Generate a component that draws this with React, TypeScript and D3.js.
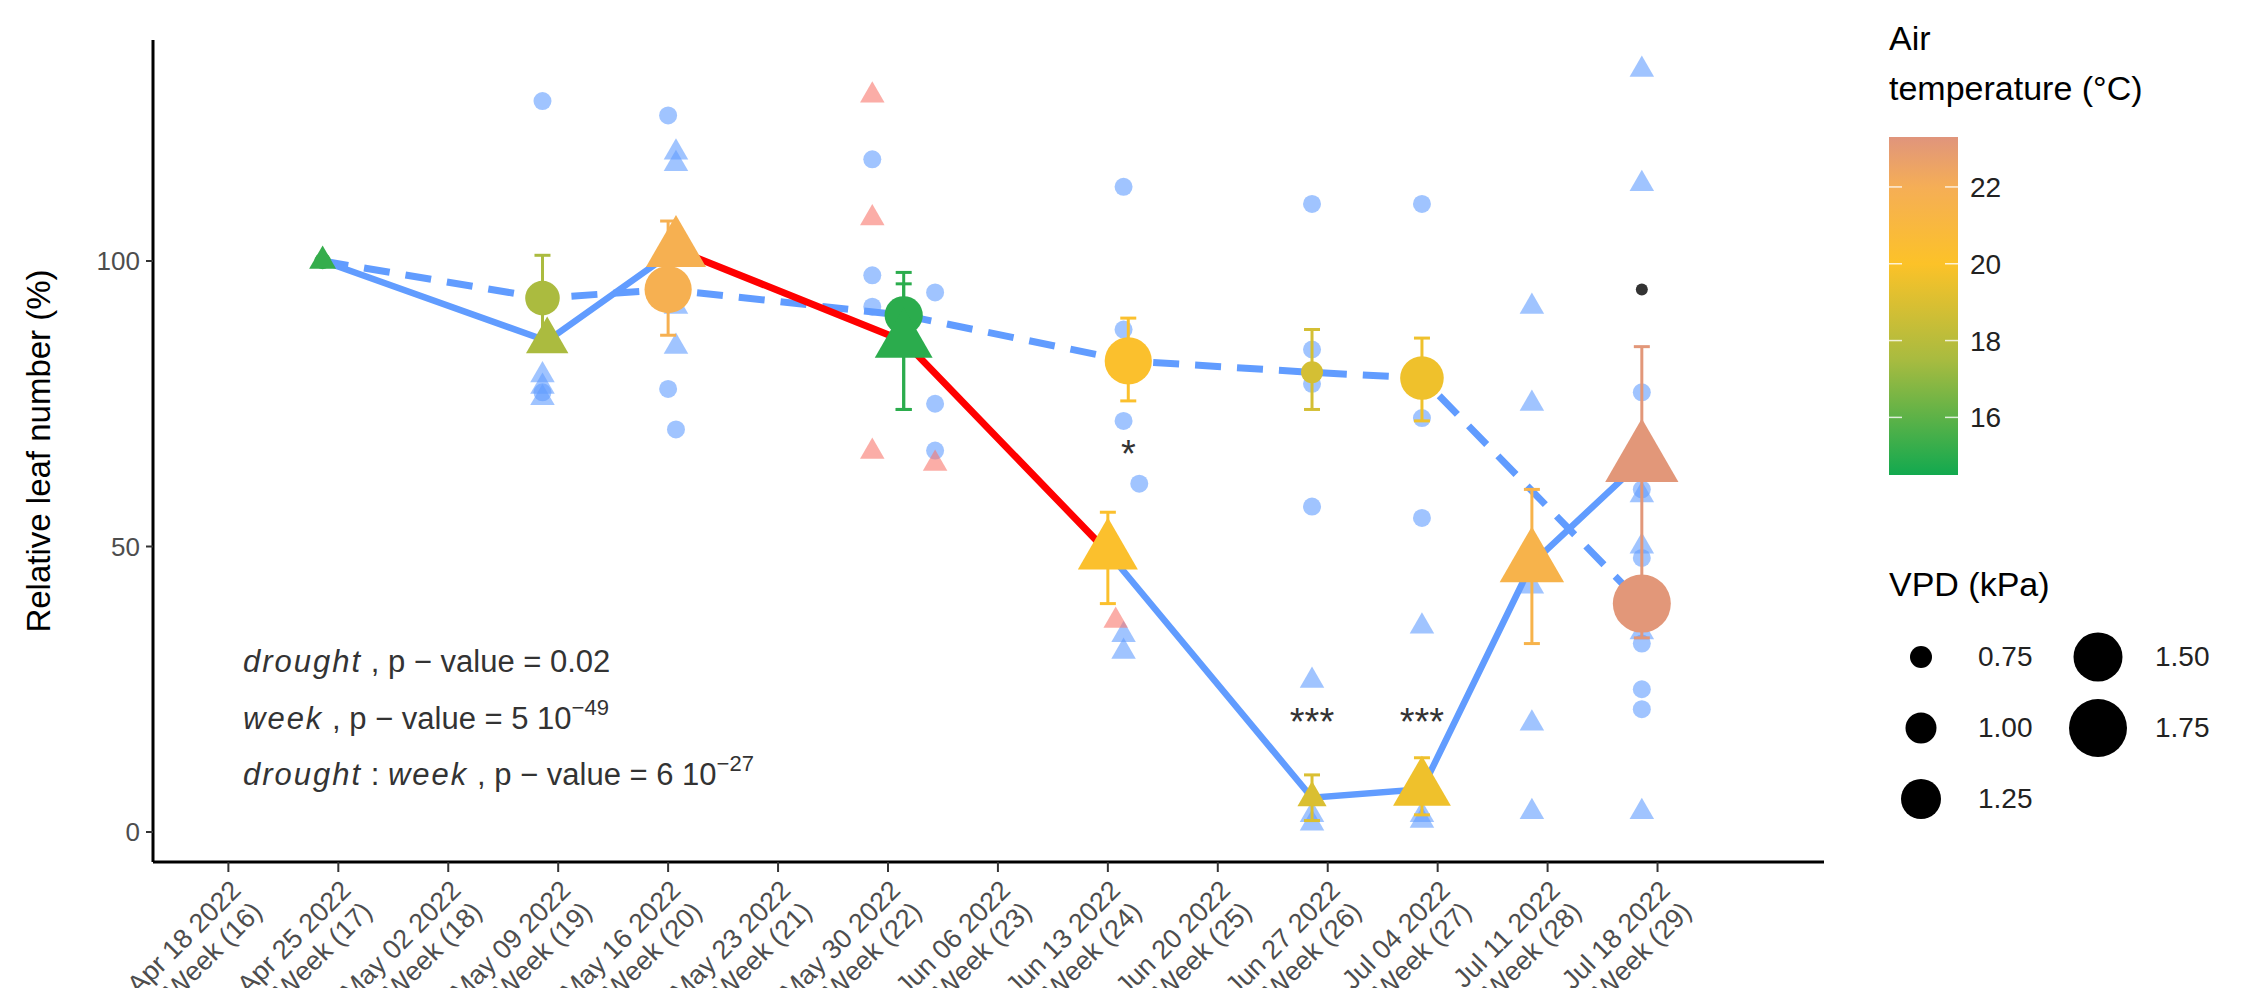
import React from 'react';
import * as d3 from 'd3';

// x = days since Apr 18 2022
const tickLabels1 = ['Apr 18 2022', 'Apr 25 2022', 'May 02 2022', 'May 09 2022', 'May 16 2022', 'May 23 2022', 'May 30 2022', 'Jun 06 2022', 'Jun 13 2022', 'Jun 20 2022', 'Jun 27 2022', 'Jul 04 2022', 'Jul 11 2022', 'Jul 18 2022'];
const tickLabels2 = ['Week (16)', 'Week (17)', 'Week (18)', 'Week (19)', 'Week (20)', 'Week (21)', 'Week (22)', 'Week (23)', 'Week (24)', 'Week (25)', 'Week (26)', 'Week (27)', 'Week (28)', 'Week (29)'];

// control (circles, dashed)
const ctrlDay = [6, 20, 28, 43, 57.3, 69, 76, 90];
const ctrlVal = [100, 93.5, 95, 90.5, 82.5, 80.5, 79.5, 40];
const ctrlTemp = [15.2, 17.6, 21.8, 15.0, 20.2, 18.8, 19.6, 23.2];
const ctrlVpd = [0.6, 1.1, 1.45, 1.2, 1.45, 0.75, 1.35, 1.75];
const ctrlLo = [null, 85, 87, 74, 75.5, 74, 72, null];
const ctrlHi = [null, 101, 107, 98, 90, 88, 86.5, null];

// drought (triangles, solid)
const drDay = [6, 20.3, 28.5, 43, 56, 69, 76, 83, 90];
const drVal = [100, 86, 102, 86, 49, 6, 7.5, 47, 65];
const drTemp = [15.2, 17.6, 21.8, 15.0, 20.2, 19.0, 19.6, 21.5, 23.2];
const drVpd = [0.75, 1.1, 1.5, 1.45, 1.5, 0.8, 1.45, 1.6, 1.8];
const drLo = [null, 83, null, 74, 40, 2, 3, 33, 34];
const drHi = [null, null, null, 96, 56, 10, 13, 60, 85];

// raw observations
const rawCircDay = [20, 20, 28, 28, 28.5, 28, 41, 41, 41, 45, 45, 45, 57, 57, 57, 58, 69, 69, 69, 69, 76, 76, 76, 90, 90, 90, 90, 90, 90];
const rawCircVal = [128, 77, 125.5, 77.6, 70.5, 94, 117.8, 97.5, 92, 94.5, 75, 66.8, 113, 88, 72, 61, 110, 84.5, 78.5, 57, 110, 72.5, 55, 77, 60, 48, 33, 25, 21.5];
const rawTriDay = [20, 20, 20, 28.5, 28.5, 28.5, 28.5, 57, 57, 69, 69, 69, 76, 76, 76, 83, 83, 83, 83, 83, 90, 90, 90, 90, 90, 90];
const rawTriVal = [80, 78, 76, 119, 117, 85, 92, 31.6, 34.5, 26.5, 3, 1.5, 36, 2, 3, 92, 75, 43, 19, 3.5, 133.5, 113.5, 59, 50, 35, 3.5];
const redTriDay = [41, 41, 41, 45, 56.5];
const redTriVal = [129, 107.5, 66.6, 64.5, 37];

const tempStops = [14.5, 17.5, 20, 22, 23.3];
const tempColors = ['#12a94f', '#a8bb40', '#fcc228', '#f5ae56', '#e0957c'];
const vpdLegend = [0.75, 1.0, 1.25, 1.5, 1.75];

export default function App() {
  const W = 2264, H = 988;
  const x = d3.scaleLinear().domain([-4.8, 101.6]).range([153, 1824]);
  const y = d3.scaleLinear().domain([0, 100]).range([832, 261]);
  const col = d3.scaleLinear<string>().domain(tempStops).range(tempColors);
  const rad = d3.scaleLinear().domain([0.75, 1.75]).range([11, 29]);
  const tri = (r: number) => d3.symbol().type(d3.symbolTriangle).size(r * r * 2.6)()!;
  const font = 'Liberation Sans, Arial, sans-serif';
  const blue = '#619cff';
  const lineGen = d3.line<[number, number]>().x(d => x(d[0])).y(d => y(d[1]));
  const ctrlPts: [number, number][] = ctrlDay.map((d, i) => [d, ctrlVal[i]]);
  const drPts: [number, number][] = drDay.map((d, i) => [d, drVal[i]]);
  const ticks = d3.range(0, 92, 7);
  const cbY = d3.scaleLinear().domain([14.5, 23.3]).range([475, 137]);

  const errBar = (dx: number, lo: number | null, hi: number | null, c: string, k: string) =>
    lo == null || hi == null ? null : (
      <g key={k} stroke={c} strokeWidth={3}>
        <line x1={x(dx)} x2={x(dx)} y1={y(lo)} y2={y(hi)} />
        <line x1={x(dx) - 8} x2={x(dx) + 8} y1={y(lo)} y2={y(lo)} />
        <line x1={x(dx) - 8} x2={x(dx) + 8} y1={y(hi)} y2={y(hi)} />
      </g>
    );

  return (
    <div style={{ position: 'absolute', left: 0, top: 0 }}>
      <svg width={W} height={H} style={{ display: 'block', background: '#fff' }} fontFamily={font}>
        <defs>
          <linearGradient id="tg" x1="0" y1="1" x2="0" y2="0">
            {tempStops.map((t, i) => (
              <stop key={i} offset={(t - 14.5) / (23.3 - 14.5)} stopColor={tempColors[i]} />
            ))}
          </linearGradient>
        </defs>
        {/* raw points */}
        {rawCircDay.map((d, i) => <circle key={'rc' + i} cx={x(d)} cy={y(rawCircVal[i])} r={9} fill={blue} opacity={0.6} />)}
        {rawTriDay.map((d, i) => <path key={'rt' + i} d={tri(10)} transform={`translate(${x(d)},${y(rawTriVal[i])})`} fill={blue} opacity={0.6} />)}
        {redTriDay.map((d, i) => <path key={'rr' + i} d={tri(10)} transform={`translate(${x(d)},${y(redTriVal[i])})`} fill="#f8766d" opacity={0.6} />)}
        <circle cx={x(90)} cy={y(95)} r={6} fill="#333" />
        {/* lines */}
        <path d={lineGen(ctrlPts)!} fill="none" stroke={blue} strokeWidth={7} strokeDasharray="26 16" />
        <path d={lineGen(drPts.slice(0, 3))!} fill="none" stroke={blue} strokeWidth={6.5} />
        <path d={lineGen(drPts.slice(4))!} fill="none" stroke={blue} strokeWidth={6.5} />
        <path d={lineGen(drPts.slice(2, 5))!} fill="none" stroke="#ff0000" strokeWidth={7} />
        {/* error bars */}
        {ctrlDay.map((d, i) => errBar(d, ctrlLo[i], ctrlHi[i], col(ctrlTemp[i]), 'ce' + i))}
        {drDay.map((d, i) => errBar(d, drLo[i], drHi[i], col(drTemp[i]), 'de' + i))}
        {/* means */}
        {ctrlDay.map((d, i) => <circle key={'cm' + i} cx={x(d)} cy={y(ctrlVal[i])} r={rad(ctrlVpd[i])} fill={col(ctrlTemp[i])} />)}
        {drDay.map((d, i) => <path key={'dm' + i} d={tri(rad(drVpd[i]))} transform={`translate(${x(d)},${y(drVal[i])})`} fill={col(drTemp[i])} />)}
        {/* significance */}
        <text x={x(57.3)} y={y(64)} fontSize={38} textAnchor="middle" fill="#333">*</text>
        <text x={x(69)} y={y(17)} fontSize={38} textAnchor="middle" fill="#333">***</text>
        <text x={x(76)} y={y(17)} fontSize={38} textAnchor="middle" fill="#333">***</text>
        {/* axes */}
        <line x1={153} x2={153} y1={40} y2={862} stroke="#000" strokeWidth={3} />
        <line x1={153} x2={1824} y1={862} y2={862} stroke="#000" strokeWidth={3} />
        {[0, 50, 100].map(v => (
          <g key={v}>
            <line x1={146} x2={153} y1={y(v)} y2={y(v)} stroke="#333" strokeWidth={2} />
            <text x={140} y={y(v) + 9} fontSize={26} textAnchor="end" fill="#4d4d4d">{v}</text>
          </g>
        ))}
        {ticks.map((t, i) => (
          <g key={t}>
            <line x1={x(t)} x2={x(t)} y1={862} y2={872} stroke="#333" strokeWidth={2} />
            <text transform={`translate(${x(t) + 14},${892}) rotate(-45)`} fontSize={27} textAnchor="end" fill="#4d4d4d">
              <tspan x={0} dy={0}>{tickLabels1[i]}</tspan>
              <tspan x={0} dy={30}>{tickLabels2[i]}</tspan>
            </text>
          </g>
        ))}
        <text transform="translate(50,451) rotate(-90)" fontSize={33} textAnchor="middle" fill="#000">Relative leaf number (%)</text>
        {/* stats */}
        <g fontSize={31} fill="#333">
          <text x={243} y={672}><tspan fontStyle="italic" letterSpacing={2}>drought</tspan> , p − value = 0.02</text>
          <text x={243} y={729}><tspan fontStyle="italic" letterSpacing={2}>week</tspan> , p − value = 5  10<tspan dy={-14} fontSize={22}>−49</tspan></text>
          <text x={243} y={785}><tspan fontStyle="italic" letterSpacing={2}>drought</tspan> : <tspan fontStyle="italic" letterSpacing={2}>week</tspan> , p − value = 6  10<tspan dy={-14} fontSize={22}>−27</tspan></text>
        </g>
        {/* colour legend */}
        <text x={1889} y={50} fontSize={34}>Air</text>
        <text x={1889} y={100} fontSize={34}>temperature (°C)</text>
        <rect x={1889} y={137} width={69} height={338} fill="url(#tg)" />
        {[16, 18, 20, 22].map(t => (
          <g key={t}>
            <line x1={1889} x2={1902} y1={cbY(t)} y2={cbY(t)} stroke="#fff" strokeWidth={1.5} opacity={0.8} />
            <line x1={1945} x2={1958} y1={cbY(t)} y2={cbY(t)} stroke="#fff" strokeWidth={1.5} opacity={0.8} />
            <text x={1970} y={cbY(t) + 10} fontSize={28} fill="#222">{t}</text>
          </g>
        ))}
        {/* size legend */}
        <text x={1889} y={596} fontSize={34}>VPD (kPa)</text>
        {vpdLegend.map((v, i) => {
          const cx = i < 3 ? 1921 : 2098;
          const cy = 657 + (i % 3) * 71;
          return (
            <g key={v}>
              <circle cx={cx} cy={cy} r={rad(v)} fill="#000" />
              <text x={cx + 57} y={cy + 9} fontSize={28} fill="#222">{v.toFixed(2)}</text>
            </g>
          );
        })}
      </svg>
    </div>
  );
}
